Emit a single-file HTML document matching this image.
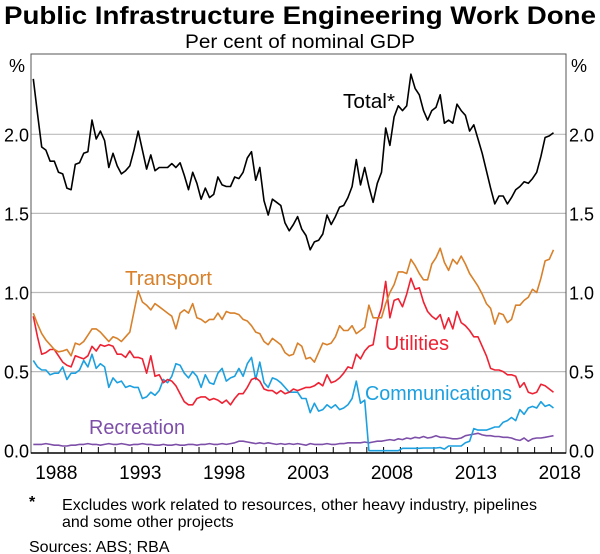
<!DOCTYPE html>
<html><head><meta charset="utf-8">
<style>
html,body{margin:0;padding:0;background:#fff;}
svg{display:block;font-family:"Liberation Sans",Arial,sans-serif;}
</style></head>
<body>
<svg id="chart" width="600" height="554" viewBox="0 0 600 554">
<text x="300" y="24" text-anchor="middle" font-size="25" font-weight="bold" textLength="592" lengthAdjust="spacingAndGlyphs">Public Infrastructure Engineering Work Done</text>
<text x="300" y="48" text-anchor="middle" font-size="19" textLength="230" lengthAdjust="spacingAndGlyphs">Per cent of nominal GDP</text>
<text x="9" y="72" font-size="18">%</text>
<text x="571" y="72" font-size="18">%</text>
<g id="grid"></g>
<g id="yl"></g>
<g id="yr"></g>
<g id="xa"></g>
<g id="series"></g>
<rect x="31" y="54" width="535" height="399" fill="none" stroke="#555" stroke-width="1"/>
<line x1="31" y1="453" x2="566" y2="453" stroke="#000" stroke-width="1.5"/>
<text x="343" y="108" font-size="20" textLength="52" lengthAdjust="spacingAndGlyphs" fill="#000">Total*</text>
<text x="125" y="285" font-size="20" textLength="87" lengthAdjust="spacingAndGlyphs" fill="#d8802a">Transport</text>
<text x="385" y="350" font-size="20" textLength="64" lengthAdjust="spacingAndGlyphs" fill="#ee2233">Utilities</text>
<text x="365" y="400" font-size="20" textLength="147" lengthAdjust="spacingAndGlyphs" fill="#1ca0e0">Communications</text>
<text x="89" y="434" font-size="20" textLength="96" lengthAdjust="spacingAndGlyphs" fill="#7d4fa8">Recreation</text>
<text x="29" y="507" font-size="16" font-weight="bold">*</text>
<text x="62" y="510" font-size="16" textLength="475" lengthAdjust="spacingAndGlyphs">Excludes work related to resources, other heavy industry, pipelines</text>
<text x="62" y="527" font-size="16">and some other projects</text>
<text x="29" y="552" font-size="16">Sources: ABS; RBA</text>
</svg>
<script>
const yTicks = [0.0, 0.5, 1.0, 1.5, 2.0];
const yTickLabels = ["0.0","0.5","1.0","1.5","2.0"];
const xYears = [1988,1993,1998,2003,2008,2013,2018];
const startYear = 1987.125;
const total = [2.35,2.13,1.92,1.90,1.83,1.83,1.76,1.75,1.66,1.65,1.81,1.82,1.88,1.89,2.09,1.97,2.02,1.96,1.79,1.88,1.80,1.75,1.77,1.80,1.90,2.02,1.90,1.78,1.87,1.77,1.79,1.79,
1.79,1.815,1.79,1.82,1.74,1.65,1.76,1.69,1.59,1.66,1.60,1.62,1.73,1.68,1.67,1.67,1.73,1.72,1.76,1.85,1.89,1.71,1.79,1.58,1.49,1.59,1.57,1.55,1.44,1.39,1.43,
1.48,1.40,1.36,1.27,1.32,1.33,1.37,1.49,1.43,1.48,1.54,1.55,1.60,1.67,1.84,1.68,1.79,1.67,1.57,1.69,1.76,2.04,1.93,2.11,2.18,2.15,2.18,2.38,2.29,2.25,2.15,
2.09,2.15,2.17,2.25,2.07,2.09,2.07,2.19,2.15,2.12,2.02,2.06,1.97,1.88,1.77,1.66,1.56,1.61,1.61,1.56,1.60,1.65,1.67,1.70,1.69,1.72,1.76,1.86,1.98,1.99,2.01];
const transport = [0.87,0.80,0.74,0.70,0.67,0.64,0.625,0.63,0.64,0.60,0.68,0.67,0.69,0.73,0.77,0.77,0.75,0.72,0.69,0.72,0.71,0.69,0.72,0.75,0.88,1.01,0.94,0.92,0.89,0.93,0.91,0.89,
0.87,0.85,0.77,0.87,0.89,0.87,0.93,0.84,0.83,0.81,0.83,0.83,0.87,0.83,0.88,0.87,0.87,0.86,0.83,0.82,0.79,0.75,0.74,0.69,0.67,0.71,0.69,0.67,0.62,0.60,0.61,
0.68,0.66,0.58,0.59,0.56,0.62,0.68,0.67,0.68,0.72,0.79,0.76,0.76,0.79,0.74,0.76,0.78,0.92,0.84,0.84,0.84,0.93,1.00,1.05,1.13,1.13,1.12,1.21,1.17,1.12,1.08,
1.08,1.18,1.22,1.28,1.19,1.14,1.21,1.18,1.23,1.18,1.12,1.08,1.04,0.99,0.93,0.90,0.80,0.87,0.86,0.81,0.83,0.92,0.92,0.95,0.97,1.02,1.00,1.09,1.20,1.21,1.27];
const utilities = [0.85,0.72,0.61,0.62,0.64,0.64,0.60,0.56,0.54,0.53,0.60,0.59,0.58,0.60,0.66,0.63,0.67,0.66,0.67,0.66,0.61,0.61,0.59,0.63,0.59,0.59,0.58,0.49,0.60,0.47,0.48,0.43,
0.45,0.44,0.41,0.36,0.31,0.29,0.29,0.33,0.34,0.34,0.32,0.33,0.32,0.30,0.32,0.29,0.33,0.36,0.36,0.40,0.45,0.46,0.44,0.39,0.38,0.38,0.36,0.38,0.36,0.37,0.39,
0.38,0.39,0.40,0.40,0.41,0.43,0.41,0.48,0.43,0.44,0.46,0.49,0.53,0.52,0.61,0.58,0.63,0.66,0.67,0.82,0.90,1.07,0.84,0.95,0.96,0.91,0.99,1.09,1.02,1.03,0.94,
0.88,0.85,0.83,0.86,0.77,0.84,0.77,0.88,0.81,0.79,0.76,0.72,0.72,0.66,0.60,0.52,0.51,0.51,0.50,0.48,0.48,0.47,0.40,0.43,0.37,0.36,0.37,0.42,0.41,0.39,0.37];
const communications = [0.57,0.53,0.51,0.51,0.48,0.49,0.49,0.53,0.45,0.49,0.49,0.51,0.57,0.53,0.61,0.52,0.55,0.53,0.40,0.46,0.43,0.44,0.40,0.41,0.40,0.40,0.33,0.34,0.37,0.35,0.38,0.45,
0.43,0.47,0.55,0.54,0.49,0.46,0.50,0.47,0.40,0.48,0.43,0.42,0.49,0.52,0.44,0.46,0.47,0.52,0.47,0.55,0.59,0.45,0.56,0.43,0.40,0.46,0.45,0.43,0.40,0.37,0.37,
0.37,0.33,0.33,0.24,0.30,0.25,0.26,0.29,0.27,0.29,0.26,0.27,0.29,0.33,0.44,0.30,0.32,0.0,0.0,0.0,0.0,0.0,0.0,0.0,0.0,0.015,0.015,0.015,0.015,0.015,0.017,
0.017,0.017,0.017,0.02,0.01,0.03,0.03,0.03,0.03,0.05,0.06,0.14,0.13,0.13,0.13,0.14,0.15,0.15,0.18,0.19,0.21,0.19,0.26,0.23,0.27,0.28,0.27,0.31,0.28,0.29,0.27];
const recreation = [0.04,0.04,0.04,0.045,0.04,0.035,0.035,0.03,0.03,0.035,0.035,0.04,
0.04,0.045,0.04,0.04,0.035,0.04,0.045,0.04,0.04,0.045,0.04,0.035,
0.04,0.04,0.045,0.04,0.04,0.035,0.035,0.04,0.035,0.035,0.04,0.035,
0.035,0.04,0.04,0.035,0.04,0.04,0.045,0.04,0.04,0.045,0.04,0.045,
0.05,0.06,0.06,0.055,0.05,0.045,0.05,0.045,0.05,0.045,0.04,0.045,
0.04,0.045,0.04,0.045,0.04,0.035,0.045,0.04,0.04,0.04,0.045,0.04,
0.04,0.045,0.045,0.05,0.05,0.05,0.05,0.055,0.05,0.055,0.06,0.06,
0.065,0.07,0.065,0.075,0.07,0.08,0.075,0.085,0.08,0.09,0.08,0.085,
0.095,0.085,0.085,0.08,0.075,0.075,0.08,0.095,0.1,0.105,0.11,0.10,
0.095,0.095,0.09,0.09,0.085,0.085,0.08,0.07,0.065,0.08,0.06,0.075,0.08,0.08,0.085,0.09,0.095];

const NS = "http://www.w3.org/2000/svg";
function X(t){ return 48 + (t - 1988) * 16.78; }
function Y(v){ return 450.7 - v * 158.2; }
function tOf(i){ return startYear + 0.25 * i; }
function mk(tag, attrs, parent){ const e = document.createElementNS(NS, tag); for (const k in attrs) e.setAttribute(k, attrs[k]); parent.appendChild(e); return e; }

const grid = document.getElementById('grid');
const yl = document.getElementById('yl');
const yr = document.getElementById('yr');
yTicks.forEach((v, k) => {
  if (v > 0) {
    const g = mk('line', {x1:31, x2:566, y1:Y(v), y2:Y(v), stroke:'#bbb', 'stroke-width':1.2}, grid);
    
    
  }
  const a = mk('text', {x:29, y:Y(v)+7, 'text-anchor':'end', 'font-size':18}, yl);
  a.textContent = yTickLabels[k];
  
  
  const b = mk('text', {x:569, y:Y(v)+7, 'text-anchor':'start', 'font-size':18}, yr);
  b.textContent = yTickLabels[k];
  
  
});
const xa = document.getElementById('xa');
for (let yr2 = 1988; yr2 <= 2018; yr2++) {
  const t = mk('line', {x1:X(yr2), x2:X(yr2), y1:453, y2:447, stroke:'#000', 'stroke-width':1}, xa);
  
  
}
xYears.forEach(y => {
  const l = mk('text', {x:X(y + 0.5), y:479, 'text-anchor':'middle', 'font-size':19}, xa);
  l.textContent = String(y);
  
  
});
const ser = document.getElementById('series');
function line(data, color, name){
  const d = data.map((v, i) => (i ? 'L' : 'M') + X(tOf(i)).toFixed(1) + ',' + Y(v).toFixed(1)).join(' ');
  const p = mk('path', {d:d, fill:'none', stroke:color, 'stroke-width':1.6, 'stroke-linejoin':'round'}, ser);
  
  
}
line(recreation, '#7d4fa8', 'recreation-line');
line(communications, '#1ca0e0', 'communications-line');
line(utilities, '#ee2233', 'utilities-line');
line(transport, '#d8802a', 'transport-line');
line(total, '#000', 'total-line');
</script>
</body></html>
